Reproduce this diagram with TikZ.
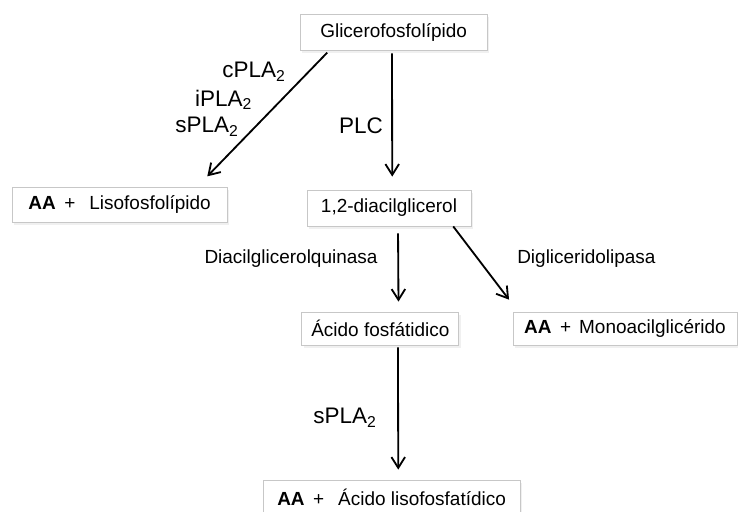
\documentclass[tikz,border=0pt]{standalone}
\usepackage{fontspec}
\setmainfont{Liberation Sans}
\usetikzlibrary{arrows.meta,shadows}

\begin{document}
\begin{tikzpicture}
    \tikzset{caja/.style={draw=black!22,fill=white,line width=0.6pt,inner sep=0pt,drop shadow={opacity=0.12,shadow xshift=0.04cm,shadow yshift=-0.08cm}},
             flecha/.style={line width=1.3pt,-{Straight Barb[length=0.27cm,width=0.34cm,line width=1.3pt]}},
             etiq/.style={inner sep=0pt},
             enzima/.style={inner sep=0pt,font=\fontsize{16}{19}\selectfont}};
    \useasboundingbox (0,0) rectangle (18.45,12.775);
    \fontsize{13.5}{16}\selectfont
	\node (glic) at (9.84,11.975) [caja,minimum width=4.675cm,minimum height=0.9cm]{Glicerofosfolípido};
	\node (liso) at (2.99,7.66) [caja,minimum width=5.375cm,minimum height=0.875cm]{\textbf{AA}\, +\hspace{0.35cm}Lisofosfolípido};
	\node (dag) at (9.725,7.575) [caja,minimum width=4.1cm,minimum height=0.9cm]{1,2-diacilglicerol};
	\node (pa) at (9.51,4.5625) [caja,minimum width=3.925cm,minimum height=0.825cm]{Ácido fosfátidico};
	\node (mag) at (15.625,4.5625) [caja,minimum width=5.6cm,minimum height=0.825cm]{\textbf{AA}\, +\hspace{0.2cm}Monoacilglicérido};
	\node (lpa) at (9.79,0.35) [caja,minimum width=6.425cm,minimum height=0.85cm]{\textbf{AA}\, +\hspace{0.35cm}Ácido lisofosfatídico};
	% enzimas
	\node (cpla) at (6.35,10.975) [enzima]{cPLA\textsubscript{2}};
	\node (ipla) at (5.59,10.275) [enzima]{iPLA\textsubscript{2}};
	\node (spla) at (5.175,9.6) [enzima]{sPLA\textsubscript{2}};
	\node (plc) at (9.025,9.625) [enzima]{PLC};
	\node (dgk) at (7.275,6.3) [etiq]{Diacilglicerolquinasa};
	\node (dgl) at (12.925,6.3) [etiq,anchor=west]{Digliceridolipasa};
	\node (splb) at (8.625,2.325) [enzima]{sPLA\textsubscript{2}};
	% reacciones
	\draw[flecha,shorten <=0.075cm,shorten >=0.36cm] (glic.196.8) -- (liso.13.6);
	\draw[flecha,shorten <=0.075cm,shorten >=0.325cm] (glic.265.2) -- (dag.80.5);
	\draw[flecha,shorten <=0.175cm,shorten >=0.25cm] (dag.296.6) -- (pa.43.3);
	\draw[flecha,shorten >=0.375cm] (dag.344.9) -- (mag.171);
	\draw[flecha,shorten <=0.05cm,shorten >=0.25cm] (pa.316.7) -- (lpa.69.1);
\end{tikzpicture}
\end{document}
